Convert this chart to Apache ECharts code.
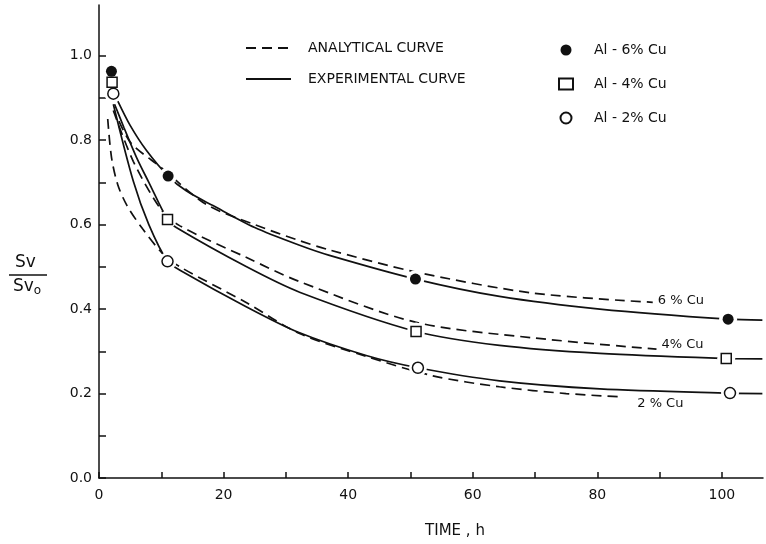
<!DOCTYPE html>
<html>
<head>
<meta charset="utf-8">
<script src="https://cdn.jsdelivr.net/npm/echarts@6/dist/echarts.min.js"></script>
<style>
html,body{margin:0;padding:0;background:#fff;}
#chart{width:766px;height:544px;}
</style>
</head>
<body>
<div id="chart"></div>
<script>
// ---- data ----
const xTicks = [0, 10, 20, 30, 40, 50, 60, 70, 80, 90, 100];
const xLabels = [0, 20, 40, 60, 80, 100];
const yTicks = [0, 0.1, 0.2, 0.3, 0.4, 0.5, 0.6, 0.7, 0.8, 0.9, 1.0];
const yLabels = [0, 0.2, 0.4, 0.6, 0.8, 1.0];

// measured points (time h, Sv/Sv0)
const cu6Points = [[2.0, 0.963], [11.1, 0.715], [50.8, 0.471], [101.0, 0.376]];
const cu4Points = [[2.1, 0.937], [11.0, 0.612], [50.9, 0.347], [100.7, 0.283]];
const cu2Points = [[2.3, 0.910], [11.0, 0.513], [51.2, 0.261], [101.3, 0.201]];

// experimental curves (solid)
const cu6Exp = [[3.0, 0.893], [5.0, 0.835], [7.6, 0.776], [11.1, 0.715], [14.0, 0.680], [18.3, 0.645], [25.0, 0.593], [32.2, 0.551], [37.0, 0.527], [50.8, 0.471], [64.3, 0.430], [80.4, 0.400], [101.0, 0.376], [106.5, 0.374]];
const cu4Exp = [[2.5, 0.885], [4.0, 0.830], [6.0, 0.760], [8.0, 0.700], [11.0, 0.612], [12.4, 0.593], [23.7, 0.500], [32.2, 0.440], [50.9, 0.347], [64.3, 0.314], [80.4, 0.295], [100.7, 0.283], [106.5, 0.282]];
const cu2Exp = [[2.3, 0.885], [5.5, 0.703], [8.0, 0.600], [11.0, 0.513], [13.0, 0.492], [23.7, 0.405], [32.0, 0.345], [42.9, 0.290], [51.2, 0.261], [64.3, 0.230], [80.4, 0.211], [101.3, 0.201], [106.5, 0.200]];

// analytical curves (dashed)
const cu6Ana = [[3.2, 0.845], [5.2, 0.792], [10.0, 0.735], [17.2, 0.648], [25.0, 0.600], [32.2, 0.562], [37.0, 0.540], [50.8, 0.488], [69.6, 0.438], [88.9, 0.416]];
const cu4Ana = [[2.3, 0.870], [5.5, 0.750], [10.0, 0.635], [13.0, 0.597], [23.7, 0.522], [32.2, 0.465], [50.8, 0.369], [69.6, 0.332], [89.5, 0.305]];
const cu2Ana = [[1.4, 0.850], [2.0, 0.760], [3.0, 0.695], [4.5, 0.645], [7.0, 0.590], [10.3, 0.530], [13.0, 0.500], [23.7, 0.415], [32.2, 0.342], [42.9, 0.288], [53.6, 0.242], [64.3, 0.216], [75.0, 0.200], [84.0, 0.192]];

const curveLabels = ['6 % Cu', '4% Cu', '2 % Cu'];
const alloyNames = ['Al - 6% Cu', 'Al - 4% Cu', 'Al - 2% Cu'];
const ANA = 'ANALYTICAL CURVE';
const EXP = 'EXPERIMENTAL CURVE';

// ---- chart ----
const INK = '#111111';
const FONT = 'DejaVu Sans';
const chart = echarts.init(document.getElementById('chart'), null, {renderer: 'canvas'});

function solid(data) {
  return {type: 'line', name: EXP, data: data, smooth: 0.3, symbol: 'none', z: 2,
    lineStyle: {color: INK, width: 1.7, type: 'solid'}, itemStyle: {color: INK}, silent: true};
}
function dashed(data, label, offset) {
  return {type: 'line', name: ANA, data: data, smooth: 0.3, symbol: 'none', z: 2,
    lineStyle: {color: INK, width: 1.7, type: [10, 6]}, itemStyle: {color: INK}, silent: true,
    endLabel: {show: true, formatter: label, color: INK, fontFamily: FONT, fontSize: 13, distance: 5, offset: offset}};
}
function halo(data) {
  return {type: 'scatter', name: 'halo', data: data, symbol: 'circle', symbolSize: 18, z: 3, silent: true,
    itemStyle: {color: '#ffffff', borderWidth: 0, opacity: 1}};
}
function marker(name, data, sym, filled) {
  return {type: 'scatter', name: name, data: data, symbol: sym, symbolSize: sym === 'rect' ? 10 : 11, z: 4, silent: true,
    itemStyle: {color: filled ? INK : '#ffffff', borderColor: INK, borderWidth: filled ? 0 : 1.5, opacity: 1}};
}

const option = {
  animation: false,
  backgroundColor: '#ffffff',
  grid: {left: 99, right: 3, top: 5, bottom: 60, containLabel: false},
  xAxis: {
    type: 'value', min: 0, max: 106.6,
    name: 'TIME , h', nameLocation: 'middle', nameGap: 46,
    nameTextStyle: {color: INK, fontFamily: FONT, fontSize: 15, padding: [0, 0, 0, 48]},
    axisLine: {show: true, lineStyle: {color: INK, width: 1.5}},
    axisTick: {show: true, inside: true, length: 6, lineStyle: {color: INK, width: 1.5}, customValues: xTicks},
    axisLabel: {color: INK, fontFamily: FONT, fontSize: 14, margin: 10, customValues: xLabels, formatter: v => String(v)},
    splitLine: {show: false}
  },
  yAxis: {
    type: 'value', min: 0, max: 1.12,
    axisLine: {show: true, lineStyle: {color: INK, width: 1.5}},
    axisTick: {show: true, inside: true, length: 7, lineStyle: {color: INK, width: 1.5}, customValues: yTicks},
    axisLabel: {color: INK, fontFamily: FONT, fontSize: 14, margin: 7, customValues: yLabels, formatter: v => v.toFixed(1)},
    splitLine: {show: false}
  },
  legend: [
    {
      data: [ANA, EXP], orient: 'vertical', left: 245, top: 41, padding: 0,
      itemWidth: 45, itemHeight: 14, itemGap: 17, selectedMode: false,
      itemStyle: {opacity: 0},
      textStyle: {color: INK, fontFamily: FONT, fontSize: 14, padding: [0, 0, 0, 12]}
    },
    {
      data: alloyNames, orient: 'vertical', left: 558, top: 43, padding: 0,
      itemWidth: 14, itemHeight: 11, itemGap: 20, selectedMode: false,
      textStyle: {color: INK, fontFamily: FONT, fontSize: 14, padding: [0, 0, 0, 16]}
    }
  ],
  graphic: [
    {type: 'text', left: 15, top: 254, style: {text: 'Sv', fontFamily: FONT, fontSize: 17, fill: INK}},
    {type: 'line', shape: {x1: 9, y1: 275, x2: 47, y2: 275}, style: {stroke: INK, lineWidth: 1.5}},
    {type: 'text', left: 13, top: 278, style: {
      text: '{a|Sv}{b|o}', fill: INK,
      rich: {a: {fontFamily: FONT, fontSize: 17, fill: INK}, b: {fontFamily: FONT, fontSize: 12, fill: INK, padding: [8, 0, 0, 0]}}
    }}
  ],
  series: [
    solid(cu6Exp), solid(cu4Exp), solid(cu2Exp),
    dashed(cu6Ana, curveLabels[0], [0, -2]),
    dashed(cu4Ana, curveLabels[1], [0, -5]),
    dashed(cu2Ana, curveLabels[2], [10, 7]),
    halo(cu6Points), halo(cu4Points), halo(cu2Points),
    marker(alloyNames[0], cu6Points, 'circle', true),
    marker(alloyNames[1], cu4Points, 'rect', false),
    marker(alloyNames[2], cu2Points, 'circle', false)
  ]
};
chart.setOption(option);
</script>
</body>
</html>
